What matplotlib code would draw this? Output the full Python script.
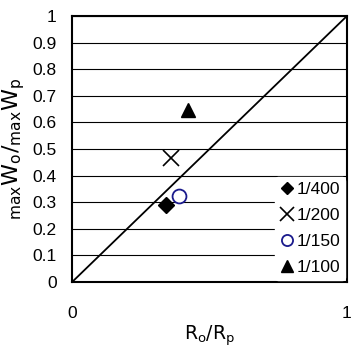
import matplotlib
matplotlib.use("Agg")
import matplotlib.pyplot as plt

labels = ["1/400", "1/200", "1/150", "1/100"]
x_vals = [0.34, 0.36, 0.39, 0.42]
y_vals = [0.29, 0.465, 0.325, 0.645]
markers = ["D", "x", "o", "^"]
colors = ["black", "black", "#1a1a8c", "black"]
sizes = [8, 12, 10, 10]

plt.rcParams['font.family'] = ['Liberation Sans', 'DejaVu Sans']

fig = plt.figure(figsize=(3.53, 3.47), dpi=100)
ax = fig.add_axes([0.204, 0.187, 0.779, 0.767])

for lab, x, y, m, c, s in zip(labels, x_vals, y_vals, markers, colors, sizes):
    if m == "o":
        ax.plot([x], [y], linestyle="none", marker=m, markersize=s,
                markerfacecolor="white", markeredgecolor=c, markeredgewidth=1.3, label=lab, zorder=4)
    elif m == "x":
        ax.plot([x], [y], linestyle="none", marker=m, markersize=s,
                color=c, markeredgewidth=1.2, label=lab, zorder=4)
    else:
        ax.plot([x], [y], linestyle="none", marker=m, markersize=s,
                color=c, label=lab, zorder=4)

ax.plot([0, 1], [0, 1], color="black", linewidth=1.3, zorder=3)

ax.set_xlim(0, 1)
ax.set_ylim(0, 1)
ax.set_yticks([i / 10 for i in range(11)])
ax.set_yticklabels(["0"] + [f"0.{i}" for i in range(1, 10)] + ["1"])
ax.set_xticks([0, 1])
ax.set_xticklabels(["0", "1"])
ax.tick_params(axis="both", length=0, labelsize=12.5)
ax.tick_params(axis="x", pad=17)
ax.tick_params(axis="y", pad=11)
ax.grid(axis="y", color="black", linewidth=0.8)
ax.set_axisbelow(True)
for sp in ax.spines.values():
    sp.set_linewidth(1.5)
    sp.set_color("black")

ax.set_xlabel(r"$\mathrm{R_o/R_p}$", fontsize=13.5, labelpad=2)
ax.set_ylabel(r"$_{\mathrm{max}}\mathrm{W}_{\mathrm{o}}/_{\mathrm{max}}\mathrm{W}_{\mathrm{p}}$", fontsize=16, labelpad=4)

leg = ax.legend(loc="lower right", frameon=True, fontsize=12.5, handletextpad=0.15,
                handlelength=0.8, borderaxespad=0.1, labelspacing=0.62, borderpad=0.3,
                markerscale=0.8)
leg.get_frame().set_edgecolor("white")
leg.get_frame().set_facecolor("white")
leg.get_frame().set_alpha(1)

fig.savefig("out.png", dpi=100)
